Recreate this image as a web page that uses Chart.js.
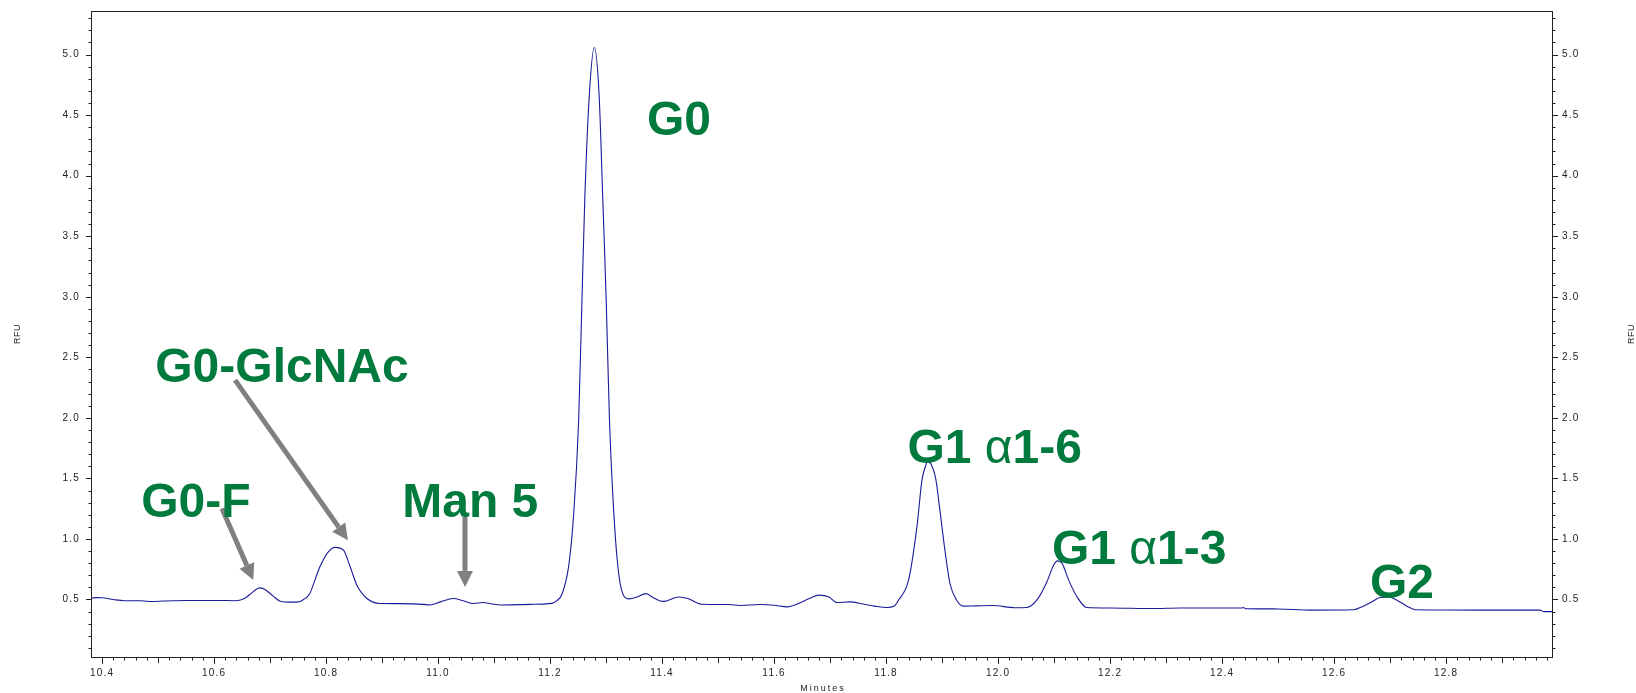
<!DOCTYPE html>
<html>
<head>
<meta charset="utf-8">
<script src="https://cdn.jsdelivr.net/npm/chart.js@4.4.1/dist/chart.umd.min.js"></script>
<style>
  html, body { margin: 0; padding: 0; background: #fff; }
  #wrap { width: 1636px; height: 693px; }
</style>
</head>
<body>
<div id="wrap"><canvas id="chromatogram"></canvas></div>
<script>
// retention time (minutes) and signal (RFU)
const minutes = [
  10.382, 10.39, 10.40, 10.42, 10.44, 10.47, 10.49, 10.51, 10.55, 10.60,
  10.64, 10.655, 10.67, 10.681, 10.69, 10.705, 10.718, 10.735, 10.748, 10.76,
  10.771, 10.78, 10.789, 10.804, 10.816, 10.831, 10.843, 10.855, 10.873, 10.896,
  10.93, 10.974, 10.985, 11.004, 11.027, 11.045, 11.063, 11.081, 11.095, 11.111,
  11.164, 11.203, 11.212, 11.221, 11.233, 11.242, 11.251, 11.257, 11.262, 11.270,
  11.279, 11.2875, 11.294, 11.300, 11.306, 11.312, 11.319, 11.327, 11.341, 11.355,
  11.371, 11.386, 11.402, 11.43, 11.446, 11.471, 11.519, 11.54, 11.575, 11.60,
  11.623, 11.639, 11.663, 11.680, 11.698, 11.712, 11.735, 11.759, 11.78, 11.801,
  11.814, 11.822, 11.840, 11.855, 11.864, 11.870, 11.874, 11.881, 11.889, 11.896,
  11.905, 11.914, 11.926, 11.938, 11.96, 11.991, 12.03, 12.051, 12.069, 12.087,
  12.099, 12.106, 12.114, 12.126, 12.141, 12.158, 12.20, 12.277, 12.325, 12.435,
  12.438, 12.442, 12.50, 12.557, 12.634, 12.652, 12.667, 12.682, 12.697, 12.712,
  12.730, 12.745, 12.80, 12.920, 12.968, 12.974, 12.989
];
const rfu = [
  0.512, 0.515, 0.514, 0.500, 0.490, 0.489, 0.483, 0.488, 0.492, 0.492,
  0.490, 0.510, 0.565, 0.596, 0.585, 0.530, 0.486, 0.478, 0.478, 0.500,
  0.550, 0.660, 0.770, 0.893, 0.930, 0.907, 0.770, 0.618, 0.508, 0.467,
  0.466, 0.460, 0.455, 0.480, 0.508, 0.490, 0.467, 0.475, 0.465, 0.455,
  0.460, 0.468, 0.490, 0.541, 0.771, 1.197, 1.982, 2.997, 3.817, 4.666,
  5.059, 4.666, 3.817, 2.997, 1.982, 1.362, 0.869, 0.590, 0.505, 0.520,
  0.548, 0.510, 0.484, 0.521, 0.508, 0.461, 0.458, 0.450, 0.458, 0.452,
  0.439, 0.458, 0.508, 0.536, 0.521, 0.475, 0.480, 0.463, 0.445, 0.434,
  0.444, 0.494, 0.660, 1.100, 1.486, 1.596, 1.637, 1.610, 1.486, 1.238,
  0.907, 0.632, 0.494, 0.445, 0.447, 0.450, 0.432, 0.434, 0.494, 0.645,
  0.783, 0.819, 0.800, 0.660, 0.521, 0.434, 0.430, 0.425, 0.430, 0.430,
  0.434, 0.424, 0.422, 0.412, 0.415, 0.445, 0.480, 0.516, 0.520, 0.494,
  0.445, 0.415, 0.413, 0.412, 0.412, 0.400, 0.400
];
const xTickLabels = [10.4, 10.6, 10.8, 11.0, 11.2, 11.4, 11.6, 11.8, 12.0, 12.2, 12.4, 12.6, 12.8];
const yTickLabels = [0.5, 1.0, 1.5, 2.0, 2.5, 3.0, 3.5, 4.0, 4.5, 5.0];

// peak names, anchored (left, baseline) in data units
const peakLabels = [
  { text: 'G0-F', x: 10.470, y: 1.180 },
  { text: 'G0-GlcNAc', x: 10.495, y: 2.296 },
  { text: 'Man 5', x: 10.936, y: 1.180 },
  { text: 'G0', x: 11.373, y: 4.337 },
  { text: 'G1 α1-6', x: 11.838, y: 1.626 },
  { text: 'G1 α1-3', x: 12.096, y: 0.792 },
  { text: 'G2', x: 12.664, y: 0.511 }
];
const arrows = [
  { from: [10.614, 1.252], to: [10.670, 0.660] },
  { from: [10.6375, 2.312], to: [10.839, 0.990] },
  { from: [11.048, 1.183], to: [11.048, 0.604] }
];

const inkColor = '#222';
const labelGreen = '#007a3d';

// frame, minor/major tick marks, axis titles, peak labels and arrows
const decorations = {
  id: 'decorations',
  beforeDraw(chart) {
    chart.ctx.letterSpacing = '1.2px';
  },
  afterDraw(chart) {
    const c = chart.ctx;
    const a = chart.chartArea;
    const xs = chart.scales.x;
    const ys = chart.scales.y;
    c.save();
    c.letterSpacing = '0px';
    c.strokeStyle = inkColor;
    c.lineWidth = 1;
    c.strokeRect(Math.round(a.left) - 0.5, Math.round(a.top) + 0.5,
      Math.round(a.right - a.left) + 1, Math.round(a.bottom - a.top));

    c.beginPath();
    for (let k = Math.ceil(xs.min / 0.02 - 1e-6); k <= Math.floor(xs.max / 0.02 + 1e-6); k++) {
      const px = Math.round(xs.getPixelForValue(k * 0.02)) + 0.5;
      const len = k % 10 === 0 ? 7 : (k % 5 === 0 ? 6 : 3.5);
      c.moveTo(px, a.bottom);
      c.lineTo(px, a.bottom + len);
    }
    for (let k = Math.ceil(ys.min / 0.1 - 1e-6); k <= Math.floor(ys.max / 0.1 + 1e-6); k++) {
      const py = Math.round(ys.getPixelForValue(k * 0.1)) + 0.5;
      const len = k % 5 === 0 ? 6 : 3.5;
      c.moveTo(a.left - len, py);
      c.lineTo(a.left, py);
      c.moveTo(a.right, py);
      c.lineTo(a.right + len, py);
    }
    c.stroke();

    // axis titles
    c.fillStyle = inkColor;
    c.font = '9px Arial, "Liberation Sans", sans-serif';
    c.textAlign = 'center';
    c.textBaseline = 'middle';
    c.letterSpacing = '2px';
    c.fillText('Minutes', (a.left + a.right) / 2 + 1, 689);
    c.letterSpacing = '0.5px';
    const midY = (a.top + a.bottom) / 2;
    [18, 1632].forEach(tx => {
      c.save();
      c.translate(tx, midY);
      c.rotate(-Math.PI / 2);
      c.fillText('RFU', 0, 0);
      c.restore();
    });
    c.letterSpacing = '0px';

    // arrows
    c.strokeStyle = '#808080';
    c.fillStyle = '#808080';
    c.lineWidth = 5;
    arrows.forEach(ar => {
      const x0 = xs.getPixelForValue(ar.from[0]), y0 = ys.getPixelForValue(ar.from[1]);
      const x1 = xs.getPixelForValue(ar.to[0]), y1 = ys.getPixelForValue(ar.to[1]);
      const ang = Math.atan2(y1 - y0, x1 - x0);
      const head = 16, half = 8;
      const bx = x1 - head * Math.cos(ang), by = y1 - head * Math.sin(ang);
      c.beginPath();
      c.moveTo(x0, y0);
      c.lineTo(bx, by);
      c.stroke();
      c.beginPath();
      c.moveTo(x1, y1);
      c.lineTo(bx + half * Math.sin(ang), by - half * Math.cos(ang));
      c.lineTo(bx - half * Math.sin(ang), by + half * Math.cos(ang));
      c.closePath();
      c.fill();
    });

    // peak labels; the alpha is set in regular weight
    c.fillStyle = labelGreen;
    c.textAlign = 'left';
    c.textBaseline = 'alphabetic';
    peakLabels.forEach(lb => {
      let px = xs.getPixelForValue(lb.x);
      const py = ys.getPixelForValue(lb.y);
      const parts = lb.text.split(/(α)/).filter(p => p.length);
      parts.forEach(p => {
        c.font = (p === 'α' ? '' : 'bold ') + '48px Arial, "Liberation Sans", sans-serif';
        c.fillText(p, px, py);
        px += c.measureText(p).width;
      });
    });
    c.restore();
  }
};

const tickFont = { family: 'Arial, "Liberation Sans", sans-serif', size: 10 };

// fixed box sizes so the plot area sits where it does in the original
const fixBox = (w, h) => s => {
  if (w !== null) s.width = w;
  if (h !== null) s.height = h;
  s.paddingTop = 0;
  s.paddingBottom = 0;
  s.paddingLeft = 0;
  s.paddingRight = 0;
};

const ctx = document.getElementById('chromatogram').getContext('2d');
const chart = new Chart(ctx, {
  type: 'line',
  data: {
    datasets: [{
      data: minutes.map((t, i) => ({ x: t, y: rfu[i] })),
      borderColor: '#1a1a9a',
      borderWidth: 1.1,
      pointRadius: 0,
      cubicInterpolationMode: 'monotone',
      fill: false
    }]
  },
  options: {
    responsive: true,
    maintainAspectRatio: false,
    animation: false,
    layout: { padding: { top: 11, left: 0, right: 0, bottom: 0 } },
    plugins: {
      legend: { display: false },
      tooltip: { enabled: false }
    },
    scales: {
      x: {
        type: 'linear',
        min: 10.382,
        max: 12.989,
        grid: { display: false, drawTicks: false },
        border: { display: false },
        afterBuildTicks: s => { s.ticks = xTickLabels.map(v => ({ value: v })); },
        afterFit: fixBox(null, 36),
        ticks: {
          autoSkip: false,
          maxRotation: 0,
          padding: 10,
          color: inkColor,
          font: tickFont,
          callback: v => Number(v).toFixed(1)
        }
      },
      y: {
        position: 'left',
        min: 0.025,
        max: 5.36,
        grid: { display: false, drawTicks: false },
        border: { display: false },
        afterBuildTicks: s => { s.ticks = yTickLabels.map(v => ({ value: v })); },
        afterFit: fixBox(92, null),
        ticks: {
          padding: 12,
          color: inkColor,
          font: tickFont,
          callback: v => Number(v).toFixed(1)
        }
      },
      y2: {
        position: 'right',
        min: 0.025,
        max: 5.36,
        grid: { display: false, drawTicks: false },
        border: { display: false },
        afterBuildTicks: s => { s.ticks = yTickLabels.map(v => ({ value: v })); },
        afterFit: fixBox(84, null),
        ticks: {
          padding: 10,
          color: inkColor,
          font: tickFont,
          callback: v => Number(v).toFixed(1)
        }
      }
    }
  },
  plugins: [decorations]
});
</script>
</body>
</html>
